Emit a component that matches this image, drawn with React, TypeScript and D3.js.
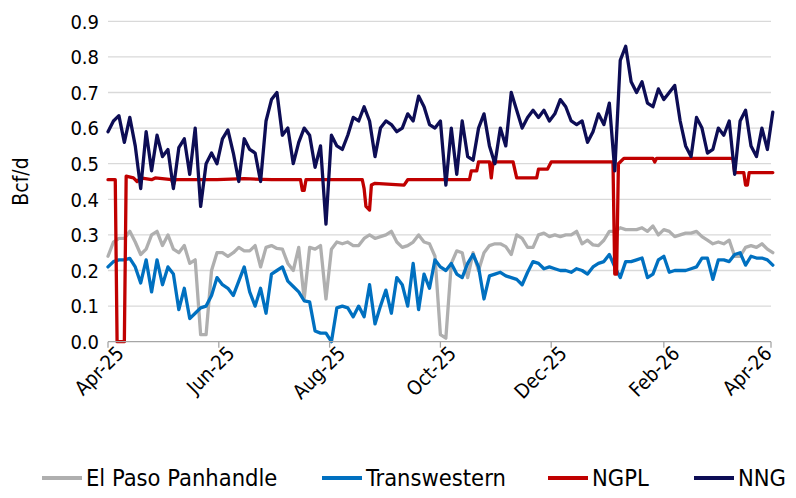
import React from 'react';
import * as d3 from 'd3';

const START = Date.UTC(2025, 3, 1);
const END = Date.UTC(2026, 3, 1);
const DAY_MS = 86400000;
const STEP_DAYS = 3;

// Daily flows (Bcf/d) read every 3 days starting Apr 1, 2025
const elPasoPanhandle = [
  0.24, 0.28, 0.29, 0.29, 0.31, 0.28, 0.245, 0.26, 0.30, 0.31,
  0.27, 0.30, 0.26, 0.25, 0.27, 0.22, 0.23, 0.02, 0.02, 0.20,
  0.25, 0.25, 0.24, 0.25, 0.265, 0.255, 0.255, 0.27, 0.21, 0.265,
  0.27, 0.262, 0.26, 0.22, 0.20, 0.265, 0.12, 0.265, 0.26, 0.27,
  0.12, 0.26, 0.28, 0.275, 0.28, 0.27, 0.27, 0.29, 0.30, 0.29,
  0.295, 0.30, 0.31, 0.28, 0.265, 0.27, 0.28, 0.30, 0.28, 0.275,
  0.24, 0.02, 0.01, 0.22, 0.255, 0.25, 0.18, 0.25, 0.20, 0.25,
  0.27, 0.275, 0.275, 0.267, 0.245, 0.30, 0.29, 0.265, 0.265, 0.30,
  0.305, 0.295, 0.30, 0.295, 0.30, 0.30, 0.31, 0.275, 0.285, 0.272,
  0.27, 0.285, 0.31, 0.31, 0.32, 0.315, 0.315, 0.315, 0.32, 0.31,
  0.325, 0.30, 0.315, 0.31, 0.295, 0.30, 0.305, 0.305, 0.31, 0.295,
  0.285, 0.275, 0.28, 0.275, 0.285, 0.24, 0.24, 0.265, 0.27, 0.265,
  0.275, 0.26, 0.25,
];

const transwestern = [
  0.21, 0.225, 0.23, 0.23, 0.234, 0.21, 0.165, 0.23, 0.14, 0.23,
  0.16, 0.21, 0.19, 0.09, 0.15, 0.065, 0.08, 0.095, 0.10, 0.13,
  0.18, 0.16, 0.15, 0.13, 0.17, 0.21, 0.14, 0.10, 0.15, 0.08,
  0.19, 0.20, 0.21, 0.17, 0.155, 0.14, 0.115, 0.112, 0.03, 0.024,
  0.024, 0.0, 0.095, 0.10, 0.095, 0.07, 0.10, 0.07, 0.16, 0.05,
  0.10, 0.145, 0.08, 0.18, 0.16, 0.10, 0.22, 0.09, 0.19, 0.15,
  0.23, 0.21, 0.20, 0.22, 0.19, 0.18, 0.22, 0.245, 0.21, 0.12,
  0.185, 0.19, 0.195, 0.185, 0.18, 0.175, 0.16, 0.195, 0.225, 0.22,
  0.205, 0.21, 0.205, 0.20, 0.20, 0.195, 0.205, 0.20, 0.19, 0.21,
  0.22, 0.225, 0.245, 0.21, 0.18, 0.225, 0.225, 0.23, 0.235, 0.18,
  0.19, 0.23, 0.24, 0.195, 0.20, 0.20, 0.20, 0.205, 0.21, 0.235,
  0.235, 0.175, 0.23, 0.23, 0.225, 0.245, 0.25, 0.215, 0.24, 0.235,
  0.235, 0.23, 0.215,
];

const nng = [
  0.59, 0.62, 0.635, 0.56, 0.63, 0.55, 0.43, 0.59, 0.48, 0.58,
  0.52, 0.54, 0.43, 0.545, 0.57, 0.47, 0.60, 0.38, 0.50, 0.53,
  0.50, 0.57, 0.595, 0.53, 0.45, 0.57, 0.54, 0.53, 0.45, 0.62,
  0.68, 0.70, 0.58, 0.60, 0.50, 0.56, 0.60, 0.58, 0.49, 0.55,
  0.33, 0.58, 0.55, 0.54, 0.58, 0.63, 0.62, 0.66, 0.62, 0.52,
  0.60, 0.62, 0.61, 0.59, 0.60, 0.64, 0.62, 0.69, 0.66, 0.61,
  0.60, 0.62, 0.44, 0.60, 0.47, 0.62, 0.52, 0.51, 0.60, 0.64,
  0.55, 0.50, 0.60, 0.55, 0.70, 0.65, 0.60, 0.63, 0.65, 0.63,
  0.65, 0.62, 0.64, 0.68, 0.66, 0.62, 0.61, 0.62, 0.56, 0.59,
  0.64, 0.61, 0.67, 0.48, 0.79, 0.83, 0.73, 0.70, 0.73, 0.67,
  0.66, 0.71, 0.68, 0.70, 0.72, 0.62, 0.55, 0.52, 0.63, 0.60,
  0.53, 0.54, 0.60, 0.58, 0.62, 0.47, 0.62, 0.65, 0.55, 0.52,
  0.60, 0.54, 0.645,
];

// NGPL is step-like: days since Apr 1, 2025 where the level changes
const ngplDays = [
  0, 4, 5, 9, 10, 14, 16, 18, 24, 26, 35, 36, 37, 60, 75, 90, 106, 107, 108, 109,
  140, 141, 142, 144, 145, 147, 163, 165, 199, 200, 203, 204, 210, 211, 212, 223,
  225, 236, 237, 242, 244, 278, 279, 280, 281, 284, 300, 301, 302, 344, 345, 350,
  351, 352, 353, 366,
];
const ngplValues = [
  0.455, 0.455, 0.0, 0.0, 0.465, 0.46, 0.45, 0.46, 0.455, 0.46, 0.455, 0.44, 0.455, 0.455, 0.458, 0.455, 0.455, 0.425, 0.425, 0.455,
  0.455, 0.43, 0.38, 0.37, 0.44, 0.445, 0.44, 0.455, 0.455, 0.48, 0.48, 0.505, 0.505, 0.46, 0.505, 0.505,
  0.46, 0.46, 0.485, 0.485, 0.505, 0.505, 0.19, 0.19, 0.50, 0.515, 0.515, 0.505, 0.515, 0.515, 0.475, 0.475,
  0.44, 0.44, 0.475, 0.475,
];

const seriesNames = ['El Paso Panhandle', 'Transwestern', 'NGPL', 'NNG'];
const seriesColors = ['#AFAFAF', '#0070C0', '#C00000', '#0D0D55'];

const xTickDates = [
  Date.UTC(2025, 3, 1), Date.UTC(2025, 5, 1), Date.UTC(2025, 7, 1), Date.UTC(2025, 9, 1),
  Date.UTC(2025, 11, 1), Date.UTC(2026, 1, 1), Date.UTC(2026, 3, 1),
];
const xTickLabels = ['Apr-25', 'Jun-25', 'Aug-25', 'Oct-25', 'Dec-25', 'Feb-26', 'Apr-26'];
const yTicks = [0, 0.1, 0.2, 0.3, 0.4, 0.5, 0.6, 0.7, 0.8, 0.9];
const yTitle = 'Bcf/d';

const FONT = "'Liberation Sans Narrow', 'Arial Narrow', 'DejaVu Sans Condensed', sans-serif";

export default function App() {
  const W = 796;
  const H = 498;
  const x = d3.scaleUtc().domain([new Date(START), new Date(END)]).range([108, 771]);
  const y = d3.scaleLinear().domain([0, 0.9]).range([341.7, 21.3]);

  const toPts = (vals: number[], days?: number[]) =>
    vals.map((v, i) => [days ? days[i] : i * STEP_DAYS, v] as [number, number]);

  const line = d3
    .line<[number, number]>()
    .x((d) => x(new Date(START + d[0] * DAY_MS)))
    .y((d) => y(d[1]));

  const series = [
    toPts(elPasoPanhandle),
    toPts(transwestern),
    toPts(ngplValues, ngplDays),
    toPts(nng),
  ];

  const legendX = [42, 322, 548, 694];

  return (
    <svg
      width={W}
      height={H}
      style={{ position: 'absolute', left: 0, top: 0, background: '#fff' }}
      fontFamily={FONT}
    >
      <rect x={0} y={0} width={W} height={H} fill="#fff" />
      {yTicks.map((t) =>
        t === 0 ? null : (
          <line key={'g' + t} x1={108} x2={771} y1={y(t)} y2={y(t)} stroke="#D9D9D9" strokeWidth={1.3} />
        )
      )}
      {yTicks.map((t) => (
        <text
          key={'yl' + t}
          x={99}
          y={y(t)}
          dy="0.36em"
          textAnchor="end"
          fontSize={20}
          fill="#000"
        >
          {d3.format('.1f')(t)}
        </text>
      ))}
      <text
        transform={`translate(28,${(y(0) + y(0.9)) / 2}) rotate(-90)`}
        textAnchor="middle"
        fontSize={21}
        fill="#000"
      >
        {yTitle}
      </text>

      {series.map((pts, i) => (
        <path
          key={'s' + i}
          d={line(pts) || ''}
          fill="none"
          stroke={seriesColors[i]}
          strokeWidth={3.3}
          strokeLinejoin="round"
          strokeLinecap="round"
        />
      ))}

      <line x1={108} x2={771} y1={y(0)} y2={y(0)} stroke="#A6A6A6" strokeWidth={1.3} />
      {xTickDates.map((d, i) => {
        const tx = x(new Date(d));
        const lx = Math.min(tx + 17, 773);
        return (
          <g key={'xt' + i}>
            <line x1={tx} x2={tx} y1={y(0)} y2={y(0) + 6} stroke="#A6A6A6" strokeWidth={1.3} />
            <text
              transform={`translate(${lx},${y(0) + 13}) rotate(-45)`}
              textAnchor="end"
              fontSize={20}
              fill="#000"
            >
              {xTickLabels[i]}
            </text>
          </g>
        );
      })}

      {seriesNames.map((name, i) => (
        <g key={'lg' + i}>
          <line
            x1={legendX[i]}
            x2={legendX[i] + 40}
            y1={478}
            y2={478}
            stroke={seriesColors[i]}
            strokeWidth={4}
          />
          <text x={legendX[i] + 44} y={478} dy="0.36em" fontSize={23.5} fill="#000">
            {name}
          </text>
        </g>
      ))}
    </svg>
  );
}
